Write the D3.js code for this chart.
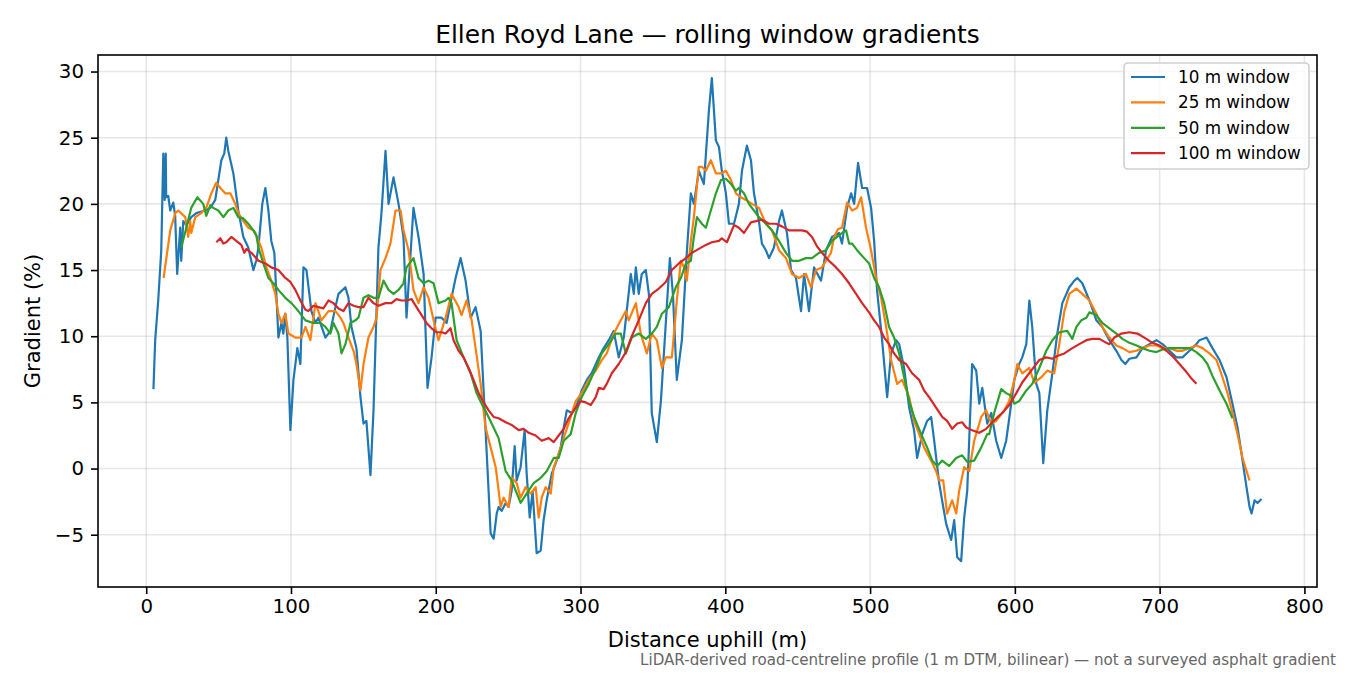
<!DOCTYPE html>
<html><head><meta charset="utf-8">
<script src="https://cdn.jsdelivr.net/npm/d3@7"></script>
<style>body{margin:0;background:#fff}svg{display:block}text{font-family:"DejaVu Sans",sans-serif}</style>
</head><body><svg id="c" width="1350" height="675"></svg>
<script>
// ---- data ----
const seriesNames = ["10 m window","25 m window","50 m window","100 m window"];
const seriesColors = ["#1f77b4","#ff7f0e","#2ca02c","#d62728"];
const xTicks = [0,100,200,300,400,500,600,700,800];
const yTicks = [-5,0,5,10,15,20,25,30];

const dist10 = [5,6.2,8.3,10.4,11.8,12.8,13.5,13.8,15.2,16.6,18.7,20,21.4,23.5,24.2,25.6,27.7,31.1,34.6,40.8,44.3,47.7,51.9,53.9,55.3,56.7,60.2,63.6,67.1,70.5,74,76,77.5,80.2,82.3,84.4,86.4,88.5,89.9,91.3,93.4,94.7,96.1,97.5,99.6,101.7,104.4,106.5,108.6,110.7,114.1,116.9,118.9,123.8,127.2,130.7,132.8,137.6,139.7,141.8,145.2,148,150.1,152.1,154.9,157,160.4,162.5,165.3,167.4,170.8,174.3,177.7,179.8,184.6,188.1,191.6,194.3,197.1,199.9,204,207.5,210.9,213.7,217.2,220.6,224.1,227.5,231,234.4,236.5,237.9,240,242.1,243.4,245.5,248.3,250.3,252.4,254.5,255.9,258.6,261.4,262.8,264.9,266.9,269.7,272.5,274.5,276.6,280.1,283.5,286.3,288.4,290.5,293.9,297.4,300.8,304.3,307.7,312.6,316,319.5,322.9,326.4,329.9,334.7,336.8,338.2,340.2,342.3,345.1,347.2,349.2,352.7,355.5,358.9,361.7,363.8,366.5,370,373.4,376.2,378.3,381.7,385.2,388.7,390.7,393.5,395.6,397.6,400.4,402.5,406,409.4,411.5,414.9,417.7,419.8,423.2,425.3,428,430.2,433.6,437.1,439.1,442.6,445.4,448.8,452.3,454.4,457.8,461.3,466.1,469.6,473.7,478.6,480.6,484.1,486.9,489,491.7,494.5,497.9,500.7,502.8,504.8,508.3,511.8,514.5,518,520.1,523.5,527,530.4,532.5,536,539.4,542.2,544.3,547.7,552.6,556,558.1,560.2,562.9,565,567.1,570.5,573.3,575.4,577.5,580.9,583.7,587.1,590.6,594,597.5,599.6,603,605.1,607.9,610,612,614.8,616.9,619.6,622.4,625.9,629.3,632.8,637.6,641.1,643.2,646.6,651.5,656.3,660.4,665.3,670.1,673.6,676.3,679.1,684,688.1,693,697.8,702,706.8,711.6,715.8,720.6,725.4,727.5,732.4,736.5,741.4,746.2,750.3,753.8,756.6,760,762.1,763.5,765.6,767.6,770.4];
const grad10 = [6.0,9.7,12.7,16.5,23.8,20.3,23.8,20.5,20.6,19.5,20.1,19.1,14.7,18.2,15.7,18.7,18.4,19.0,19.3,19.5,19.7,20.3,23.3,23.8,25.0,24.0,22.3,19.5,17.5,16.7,15.0,15.7,16.7,20.0,21.2,19.5,17.2,16.3,13.2,9.9,11.0,10.2,11.7,9.9,2.9,6.7,9.1,7.9,15.2,15.0,11.9,11.0,11.4,9.9,10.4,12.2,13.2,13.7,12.9,10.7,9.1,5.4,3.4,3.6,-0.5,4.4,16.7,19.3,24.0,20.0,22.0,20.0,17.5,11.4,19.7,17.5,14.7,6.1,8.4,11.4,11.4,11.0,12.9,14.4,15.9,14.2,11.4,12.2,10.4,2.9,-1.7,-4.9,-5.3,-3.4,-2.9,-3.2,-2.6,-2.9,-1.7,1.7,-0.9,0.1,2.9,-0.4,-3.7,-1.7,-6.4,-6.2,-3.9,-2.4,-0.4,0.6,1.6,3.1,4.4,4.2,4.8,5.9,6.7,7.2,8.4,9.1,9.7,10.4,8.4,9.9,14.7,13.2,15.2,13.2,14.7,15.0,13.2,4.2,2.0,5.1,11.0,15.9,13.2,6.7,9.7,16.3,20.8,20.0,22.5,21.5,27.1,29.5,24.8,24.3,22.5,20.8,18.5,18.5,20.0,22.5,24.4,23.3,20.8,18.7,17.0,16.5,15.9,16.7,18.7,19.5,17.8,15.0,14.4,11.9,14.7,11.9,15.2,14.2,16.5,17.5,17.8,17.0,19.7,20.8,20.0,23.1,21.2,21.2,19.7,17.2,13.5,9.7,5.4,8.7,9.7,9.4,7.6,4.6,2.9,0.8,2.6,3.6,3.9,2.1,-1.1,-4.2,-5.4,-3.9,-6.7,-7.0,-3.7,-1.7,7.9,7.4,4.9,6.1,3.4,4.2,2.1,0.8,2.1,4.9,6.7,7.9,8.4,9.4,12.7,10.7,6.4,5.7,0.4,4.4,7.2,10.2,12.5,13.7,14.2,14.4,14.0,12.7,11.2,10.7,9.7,8.9,8.2,7.9,8.3,8.4,9.1,9.4,9.7,9.4,8.9,8.4,8.4,8.9,9.4,9.7,9.9,9.1,8.2,6.9,4.9,3.1,1.1,-1.4,-2.9,-3.4,-2.4,-2.6,-2.3];

const dist25 = [12,16.6,20.1,22.1,27,29,30.4,31.1,33.9,38,41.5,45,48.4,51.2,54.6,58.1,61.5,63.6,67.1,70.5,74,75.4,79.5,83,86.4,89.2,91.3,93.4,96.1,98.2,103,107.2,110,113.4,116.9,118.9,121,125.9,130.7,134.2,136.2,139.7,143.2,145.2,148,150.1,153.5,157,159.1,161.8,165.3,168.7,172.2,175.7,177.7,181.2,184.6,188.1,191.6,195,198.5,201.9,206.8,210.9,215.8,217.8,221.3,224.8,227.5,231,234.4,237.9,241.4,244.8,246.9,250.3,252.4,255.9,258.6,262.1,265.6,269,271.1,273.2,275.9,279.4,281.5,284.9,288.4,293.2,296.7,300.8,305.7,310.5,314.7,318.1,323,327.8,331.3,333.3,338.2,341.6,345.8,349.2,352.7,356.2,358.9,363.1,366.5,369.3,371.4,373.4,376.2,378.3,381.7,383.8,386.6,390,393.5,397,400.4,403.9,407.3,410.8,414.2,418.4,423.2,428,432.2,437.1,441.9,446.1,450.9,455.7,459.2,462.7,466.8,469.6,473,475.1,477.9,480.6,484.1,487.6,491,493.8,497.2,500.7,504.1,507.6,511.1,514.5,518.7,522.1,527,530.4,533.9,537.3,542.2,545.6,547.7,550.5,553.2,556.7,559.5,561.5,565,568.5,571.9,576.8,580.2,583.7,587.1,589.2,592.7,596.1,599.6,601.7,605.1,610,613.4,618.3,622.4,627.2,630.7,634.2,637.6,642.5,646.6,651.5,656.3,660.4,665.3,670.1,674.3,679.1,684,688.1,693,697.8,702,706.8,711.6,715.8,720.6,725.4,729.6,734.4,739.3,743.4,746.9,750.3,753.8,757.3,762.1];
const grad25 = [14.4,18.0,19.3,19.5,19.0,17.5,18.7,17.8,19.0,19.3,19.7,20.8,21.6,21.2,20.8,20.8,20.0,19.3,18.7,18.2,18.0,17.8,16.7,15.2,14.2,13.2,11.7,11.0,11.7,10.2,9.9,9.9,10.7,9.7,12.5,11.9,11.2,11.9,11.9,11.4,11.0,9.9,8.9,7.9,5.9,7.9,9.9,10.7,11.4,15.0,15.9,17.0,19.5,19.5,18.0,16.5,13.5,12.5,13.7,12.9,11.2,9.7,11.4,13.2,12.2,11.6,12.7,11.2,9.1,6.4,3.1,1.6,0.1,-2.9,-2.2,-2.9,-0.7,-1.1,-2.2,-1.4,-1.9,-1.4,-3.7,-2.2,-1.4,-1.9,0.1,1.1,2.3,3.9,5.1,5.7,6.7,7.4,8.2,8.7,10.2,11.2,11.9,11.2,12.5,10.2,8.7,10.2,9.7,7.6,8.4,8.4,12.7,15.7,15.2,14.2,17.2,19.0,22.8,22.8,22.5,23.3,22.3,22.3,22.5,21.8,20.8,20.5,20.3,20.0,19.7,18.5,18.0,16.5,15.9,14.7,14.4,14.7,13.7,15.0,15.2,15.7,16.3,17.5,18.1,18.2,20.1,19.5,19.7,20.5,18.2,16.5,14.4,12.9,10.7,8.2,6.4,6.7,5.4,3.6,2.6,1.6,0.6,-0.2,-0.9,-0.9,-3.4,-2.4,-3.4,-1.7,0.1,-0.2,2.1,3.9,4.4,3.4,3.6,3.9,4.4,5.1,6.7,7.9,7.2,7.6,6.5,6.9,7.4,7.2,9.4,11.9,13.2,13.6,13.2,12.7,11.7,10.7,9.9,9.3,9.1,8.8,8.9,9.1,9.3,9.3,9.1,9.1,8.9,8.9,9.1,9.3,9.1,8.7,8.2,6.9,5.7,4.2,2.6,0.8,-0.9];

const dist50 = [24.2,27.7,31.1,35.3,39.4,41.5,44.3,46.3,49.8,53.3,56.7,60.2,63.6,67.1,70.5,74,76.1,77.5,80.9,84.4,87.8,91.3,96.1,100.3,105.1,110,115.5,120.3,123.8,127.2,129.3,132.8,134.9,137.6,141.1,144.5,146.6,150.1,153.5,157,160.4,163.9,167.4,170.8,174.3,177.7,179.8,184.6,188.1,191.6,195,198.5,201.9,206.8,208.9,210.9,214.4,219.2,224.1,228.2,231.7,235.1,238.6,243.4,248.3,252.4,258.6,262.8,267.6,272.5,276.6,281.5,284.9,288.4,293.2,296.7,300.8,305.7,310.5,314.7,319.5,324.3,327.8,331.3,335.4,340.2,345.1,349.2,352.7,356.2,361,365.8,369.3,372.8,376.2,378.3,380.4,383.8,386.6,390,393.5,397,400.4,403.9,407.3,409.4,412.9,416.3,419.8,423.2,428,432.2,437.1,441.9,446.1,450.9,455.7,459.9,464.7,469.6,473.7,477.2,480.6,483.4,485.5,487.6,491,495.9,499.3,502.8,506.2,509.7,513.1,516.6,520.1,523.5,527,530.4,535.3,539.4,542.9,546.3,549.8,554.6,559.5,563.6,567.1,571.9,576.8,580.9,582.3,585.7,590.6,594,597.5,599.6,603,607.9,612,616.9,621.7,625.9,630.7,636.2,639.7,642.5,645.9,649.4,651.5,656.3,660.4,665.3,670.1,674.3,679.1,684,688.1,693,697.8,702,706.8,711.6,715.8,720.6,725.4,729.6,733,736.5,741.4,746.2,750.3];
const grad50 = [16.7,18.2,19.7,20.5,20.0,19.1,19.9,19.7,19.5,19.0,19.5,19.7,19.0,18.9,18.5,18.0,17.6,16.7,15.5,14.4,14.0,13.5,12.9,12.5,11.9,11.2,11.0,11.0,10.7,10.2,11.0,10.2,8.7,9.4,11.0,11.2,11.4,12.9,13.1,12.9,12.9,14.2,13.5,13.2,13.5,14.0,15.2,15.9,14.4,14.0,14.2,14.0,12.5,12.7,12.9,12.5,9.7,8.4,7.2,5.7,4.9,4.2,3.4,2.3,-0.2,-0.9,-2.6,-1.9,-1.1,-0.7,-0.2,0.8,0.8,2.1,2.6,4.2,5.4,6.4,7.6,8.7,9.4,10.2,10.2,8.7,9.9,10.2,9.8,10.2,10.7,11.7,12.2,13.7,14.4,15.5,15.7,17.5,19.0,18.5,18.2,19.5,20.8,21.8,21.9,21.5,21.0,21.2,20.8,20.0,19.5,19.0,18.5,18.0,17.2,16.3,15.7,15.7,15.9,15.9,16.3,16.5,17.2,17.5,17.8,18.0,17.0,17.0,16.5,15.9,15.5,14.4,13.7,12.5,10.7,9.9,8.7,6.9,5.1,3.9,2.6,1.6,0.6,0.2,0.6,0.2,0.8,1.0,0.5,0.6,1.6,2.6,2.6,4.2,6.0,5.7,5.5,4.9,5.1,5.9,6.4,7.6,8.9,9.7,10.3,10.4,9.8,10.7,11.2,11.4,11.8,11.6,11.0,10.6,10.2,9.8,9.5,9.3,9.1,8.9,8.8,9.0,9.1,9.1,9.1,9.1,8.8,8.4,7.9,7.0,5.9,4.9,3.8];

const dist100 = [48.4,51.2,53.3,55.3,58.8,62.2,65.7,67.8,69.2,72.6,76.1,77.5,82.3,86.4,91.3,96.1,99.6,103,106.5,110,112,115.5,118.9,122.4,125.9,129.3,132.8,136.2,139.7,143.2,146.6,150.1,153.5,157,160.4,165.3,169.4,172.9,176.3,179.8,183.3,186.7,190.2,193.6,197.1,200.6,204,206.8,210.2,212.3,215.8,219.2,222.7,226.1,229.6,233.1,236.5,240,243.4,248.3,252.4,257.3,260.7,264.2,269,273.2,278,281.5,284.9,288.4,291.8,296.7,300.1,303.6,307.1,310.5,312.6,316,318.1,321.6,326.4,331.3,335.4,340.2,345.1,349.2,354.1,358.9,363.1,367.9,372.8,376.9,381.7,386.6,390.7,395.6,397.6,401.1,406,409.4,412.9,417.7,421.2,425.3,430.2,435,439.1,444,448.8,453,456.4,459.9,463.3,466.8,471.6,476.5,480.6,485.5,490.3,494.5,499.3,502.8,506.2,509.7,513.1,516.6,520.1,524.9,529,533.9,537.3,540.8,545.6,549.8,553.2,556.7,560.2,563.6,566.4,570.5,575.4,580.2,584.4,589.2,591.3,596.1,601,605.1,611.3,616.9,621.7,625.9,629.3,634.2,639.7,644.5,649.4,653.5,658.4,663.2,665.3,668.7,673.6,679.1,684.6,690.9,695,699.9,704.7,708.8,713.7,718.5,722,725.4];
const grad100 = [17.1,17.4,17.0,17.1,17.5,17.2,16.9,16.3,16.6,16.3,15.9,15.7,15.5,15.2,15.0,14.4,14.1,13.5,12.7,12.0,11.9,12.3,12.2,12.1,12.7,12.5,12.1,11.9,12.5,12.3,12.2,12.2,12.9,12.5,12.3,12.5,12.5,12.8,12.7,12.7,12.8,12.2,11.6,11.0,10.6,10.3,10.3,10.2,10.6,9.7,8.9,8.4,7.6,6.7,5.7,5.0,4.4,3.9,3.8,3.5,3.3,2.9,3.0,2.7,2.5,2.1,2.3,2.0,2.5,3.0,3.8,4.6,5.1,5.0,4.8,5.4,6.1,6.0,6.4,7.2,7.9,8.8,10.0,11.2,12.5,13.2,13.6,14.1,15.0,15.5,15.9,16.3,16.6,16.9,17.1,17.2,17.4,17.1,18.4,18.2,17.8,18.6,18.7,18.8,18.5,18.5,18.3,18.0,18.0,18.0,17.9,17.5,16.8,16.3,15.7,15.2,14.7,14.0,13.2,12.5,11.8,11.2,10.7,9.9,9.4,8.7,8.2,7.9,7.2,6.7,5.9,5.4,4.6,3.9,3.6,3.0,3.4,3.5,3.1,2.9,2.7,3.0,3.5,4.0,4.2,4.8,5.7,6.5,7.4,8.2,8.4,8.3,8.5,8.7,9.1,9.4,9.7,9.8,9.8,9.5,9.4,9.9,10.2,10.3,10.2,9.8,9.5,9.3,8.9,8.5,7.9,7.3,6.8,6.4];

const xDomain = [-33.3, 808.7];
const yDomain = [-8.95, 31.25];

// ---- chart ----
const svg = d3.select("#c");
const L = 98, R = 1317, T = 55, B = 587;
const x = d3.scaleLinear().domain(xDomain).range([L, R]);
const y = d3.scaleLinear().domain(yDomain).range([B, T]);
const fmt = d => d < 0 ? "\u2212" + Math.abs(d) : String(d);

// grid
const g = svg.append("g");
g.selectAll(".gx").data(xTicks).join("line")
  .attr("x1", d => x(d)).attr("x2", d => x(d)).attr("y1", T).attr("y2", B)
  .attr("stroke", "#b0b0b0").attr("stroke-opacity", 0.3).attr("stroke-width", 1.6);
g.selectAll(".gy").data(yTicks).join("line")
  .attr("y1", d => y(d)).attr("y2", d => y(d)).attr("x1", L).attr("x2", R)
  .attr("stroke", "#b0b0b0").attr("stroke-opacity", 0.3).attr("stroke-width", 1.6);

// lines
const all = [[dist10,grad10],[dist25,grad25],[dist50,grad50],[dist100,grad100]];
const line = d3.line().x(d => x(d[0])).y(d => y(d[1]));
all.forEach((s, i) => {
  const pts = s[0].map((d, j) => [d, s[1][j]]);
  svg.append("path").datum(pts).attr("d", line)
    .attr("fill", "none").attr("stroke", seriesColors[i])
    .attr("stroke-width", 2.2).attr("stroke-linejoin", "round");
});

// axes
const ax = svg.append("g").attr("transform", `translate(0,${B})`)
  .call(d3.axisBottom(x).tickValues(xTicks).tickFormat(fmt).tickSize(7).tickPadding(5));
const ay = svg.append("g").attr("transform", `translate(${L},0)`)
  .call(d3.axisLeft(y).tickValues(yTicks).tickFormat(fmt).tickSize(7).tickPadding(7));
[ax, ay].forEach(a => {
  a.select(".domain").remove();
  a.selectAll(".tick line").attr("stroke", "#000").attr("stroke-width", 1.6);
  a.selectAll(".tick text").attr("fill", "#000").style("font-size", "19.8px")
    .style("font-family", '"DejaVu Sans", sans-serif');
});

// spines
svg.append("rect").attr("x", L).attr("y", T).attr("width", R - L).attr("height", B - T)
  .attr("fill", "none").attr("stroke", "#000").attr("stroke-width", 1.6);

// titles
svg.append("text").attr("x", (L + R) / 2).attr("y", 43).attr("text-anchor", "middle")
  .style("font-size", "24.9px").text("Ellen Royd Lane \u2014 rolling window gradients");
svg.append("text").attr("x", (L + R) / 2).attr("y", 647).attr("text-anchor", "middle")
  .style("font-size", "21px").text("Distance uphill (m)");
svg.append("text").attr("transform", `translate(40,${(T + B) / 2}) rotate(-90)`)
  .attr("text-anchor", "middle").style("font-size", "21px").text("Gradient (%)");
svg.append("text").attr("x", 1336).attr("y", 665).attr("text-anchor", "end")
  .attr("fill", "#666").style("font-size", "15.1px")
  .text("LiDAR-derived road-centreline profile (1 m DTM, bilinear) \u2014 not a surveyed asphalt gradient");

// legend
const lg = svg.append("g");
lg.append("rect").attr("x", 1124).attr("y", 63).attr("width", 185).attr("height", 106).attr("rx", 4)
  .attr("fill", "#fff").attr("fill-opacity", 0.8).attr("stroke", "#d0d0d0").attr("stroke-width", 1.6);
seriesNames.forEach((n, i) => {
  const yy = 77 + i * 25.4;
  lg.append("line").attr("x1", 1131).attr("x2", 1165).attr("y1", yy).attr("y2", yy)
    .attr("stroke", seriesColors[i]).attr("stroke-width", 2.2);
  lg.append("text").attr("x", 1178).attr("y", yy).attr("dy", "0.35em")
    .style("font-size", "16.8px").text(n);
});
</script></body></html>
